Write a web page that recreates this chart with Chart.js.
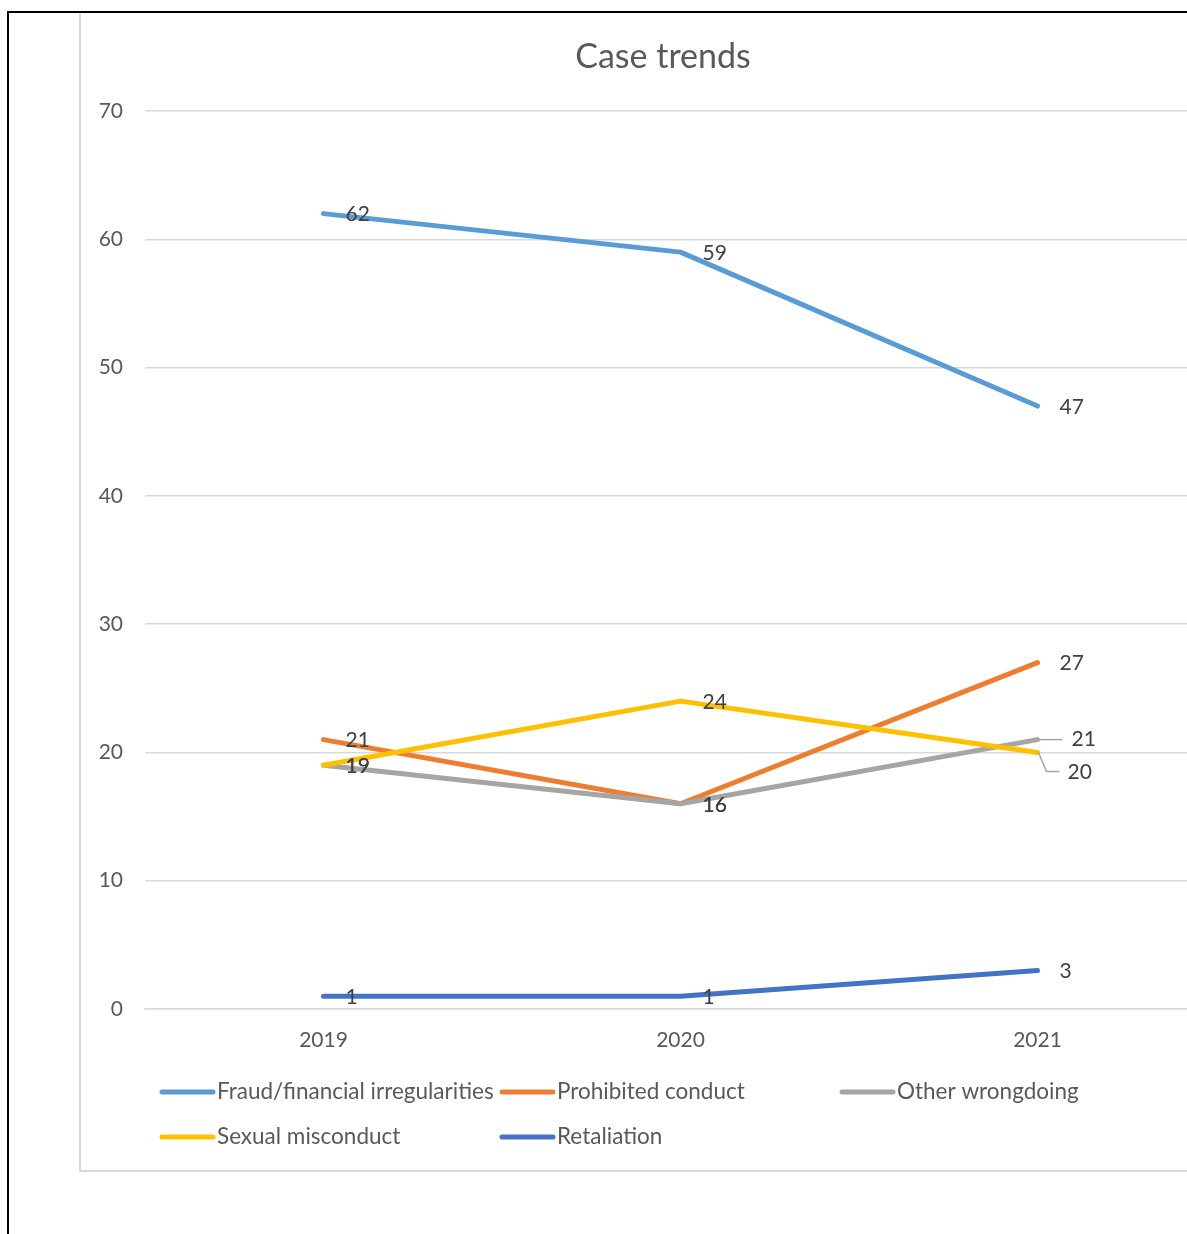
<!DOCTYPE html>
<html>
<head>
<meta charset="utf-8">
<script src="https://cdn.jsdelivr.net/npm/chart.js@4"></script>
<style>
  html, body { margin: 0; padding: 0; background: #fff; overflow: hidden; width: 1187px; height: 1234px; }
  #blackTop { position: absolute; left: 7px; top: 11px; width: 1300px; height: 2px; background: #000; }
  #blackLeft { position: absolute; left: 7px; top: 11px; width: 2px; height: 1300px; background: #000; }
  #box { position: absolute; left: 79px; top: 13px; width: 1166px; height: 1157px; border-left: 2px solid #D9D9D9; border-bottom: 2px solid #D9D9D9; }
  #wrap { position: absolute; left: 80px; top: 13px; }
</style>
</head>
<body>
<div id="blackTop"></div>
<div id="blackLeft"></div>
<div id="box"></div>
<div id="wrap"><canvas id="c" width="1166" height="1158"></canvas></div>
<script>
const categories = ["2019", "2020", "2021"];
const seriesNames = ["Fraud/financial irregularities", "Prohibited conduct", "Other wrongdoing", "Sexual misconduct", "Retaliation"];
const fraud = [62, 59, 47];
const prohibited = [21, 16, 27];
const other = [19, 16, 21];
const sexual = [19, 24, 20];
const retaliation = [1, 1, 3];
const seriesColors = ["#5B9BD5", "#ED7D31", "#A5A5A5", "#FFC000", "#4472C4"];
const yTicks = [0, 10, 20, 30, 40, 50, 60, 70];
const chartTitle = "Case trends";

const FONT = "Lato, 'Open Sans', sans-serif";
const seriesValues = [fraud, prohibited, other, sexual, retaliation];

// label displacement with leader lines (dataset index, point index) -> [dx, dy]
const labelMoves = { "2,2": [0, -12], "3,2": [0, 20] };

const titlePlugin = {
  id: 'centeredTitle',
  afterDraw(chart) {
    const ctx = chart.ctx;
    ctx.save();
    ctx.font = "34px " + FONT;
    ctx.fillStyle = "#595959";
    ctx.textAlign = "center";
    ctx.textBaseline = "middle";
    ctx.fillText(chartTitle, chart.width / 2, 44);
    ctx.restore();
  }
};

const dataLabelPlugin = {
  id: 'dataLabels',
  afterDatasetsDraw(chart) {
    const ctx = chart.ctx;
    ctx.save();
    ctx.font = "21px " + FONT;
    ctx.fillStyle = "#404040";
    ctx.textBaseline = "middle";
    ctx.textAlign = "left";
    chart.data.datasets.forEach((ds, di) => {
      const meta = chart.getDatasetMeta(di);
      meta.data.forEach((pt, i) => {
        const key = di + "," + i;
        let x = pt.x + 22, y = pt.y + 1;
        if (labelMoves[key]) {
          const [dx, dy] = labelMoves[key];
          ctx.save();
          ctx.strokeStyle = "#A5A5A5";
          ctx.lineWidth = 1.5;
          ctx.beginPath();
          if (dy < 0) {
            ctx.moveTo(pt.x, pt.y + dy + 12);
            ctx.lineTo(pt.x + 25, pt.y + dy + 12);
            y = pt.y + dy + 12;
            x = pt.x + 34;
          } else {
            ctx.moveTo(pt.x + 1, pt.y);
            ctx.lineTo(pt.x + 9, pt.y + dy - 1);
            ctx.lineTo(pt.x + 22, pt.y + dy - 1);
            y = pt.y + dy;
            x = pt.x + 30;
          }
          ctx.stroke();
          ctx.restore();
        }
        ctx.fillText(String(ds.data[i]), x, y);
      });
    });
    ctx.restore();
  }
};

const legendPlugin = {
  id: 'customLegend',
  afterDraw(chart) {
    const ctx = chart.ctx;
    const cols = [80, 420, 760];
    const rows = [1079, 1124];
    ctx.save();
    ctx.font = "22.5px " + FONT;
    ctx.fillStyle = "#595959";
    ctx.textBaseline = "middle";
    ctx.textAlign = "left";
    chart.data.datasets.forEach((ds, i) => {
      const x = cols[i % 3], y = rows[Math.floor(i / 3)];
      ctx.strokeStyle = ds.borderColor;
      ctx.lineWidth = 5;
      ctx.lineCap = "round";
      ctx.beginPath();
      ctx.moveTo(x + 2, y);
      ctx.lineTo(x + 53, y);
      ctx.stroke();
      ctx.fillText(ds.label, x + 57, y);
    });
    ctx.restore();
  }
};

const datasets = seriesNames.map((name, i) => ({
  label: name,
  data: seriesValues[i],
  borderColor: seriesColors[i],
  backgroundColor: seriesColors[i],
  borderWidth: 5,
  borderCapStyle: 'round',
  borderJoinStyle: 'round',
  pointRadius: 0,
  pointHoverRadius: 0,
  tension: 0,
  fill: false,
  order: seriesNames.length - i
}));

new Chart(document.getElementById('c'), {
  type: 'line',
  data: { labels: categories, datasets },
  plugins: [titlePlugin, dataLabelPlugin, legendPlugin],
  options: {
    responsive: false,
    animation: false,
    events: [],
    layout: { padding: { left: 0, right: 30, top: 98, bottom: 119 } },
    plugins: {
      legend: { display: false },
      tooltip: { enabled: false },
      title: { display: false }
    },
    scales: {
      x: {
        offset: true,
        grid: { display: false, drawTicks: false },
        border: { display: true, color: "#D9D9D9", width: 1.5 },
        ticks: { color: "#595959", font: { family: FONT, size: 21 }, padding: 19 },
        afterFit(s) { s.height = 43; }
      },
      y: {
        min: 0, max: 70,
        afterBuildTicks(s) { s.ticks = yTicks.map(v => ({ value: v })); },
        grid: { color: "#D9D9D9", lineWidth: 1.5, drawTicks: false },
        border: { display: false },
        ticks: { color: "#595959", font: { family: FONT, size: 21 }, padding: 22 },
        afterFit(s) { s.width = 65; }
      }
    }
  }
});
</script>
</body>
</html>
